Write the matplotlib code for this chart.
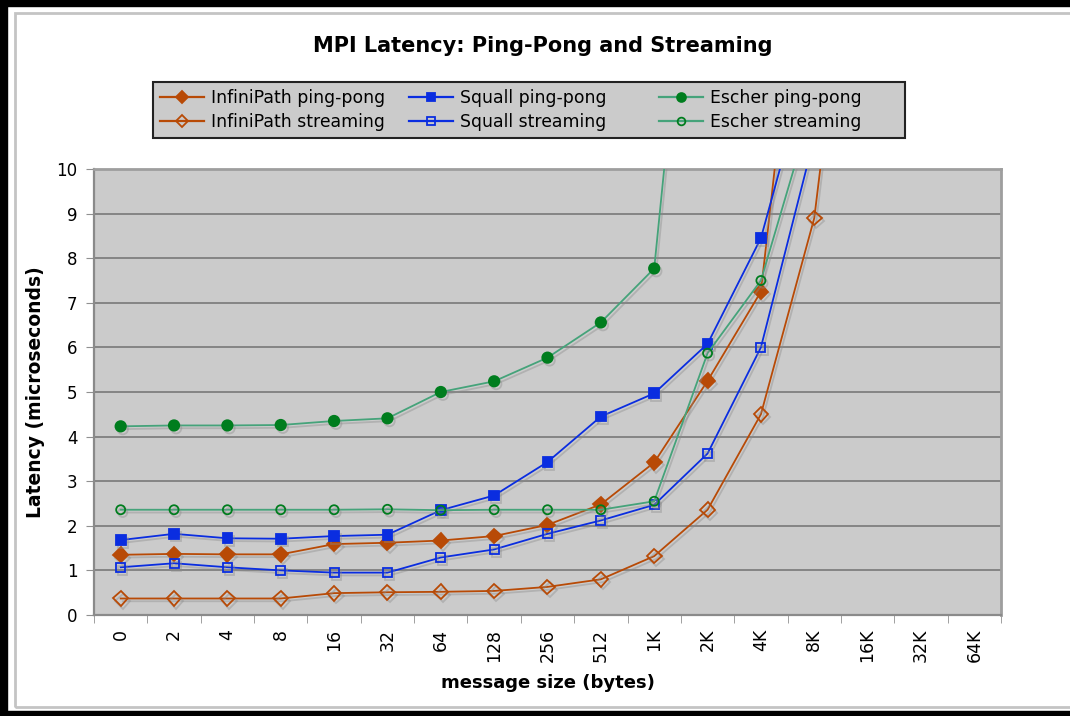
import numpy as np
import matplotlib.pyplot as plt
import matplotlib.patheffects as pe
from matplotlib.patches import Rectangle
from matplotlib.lines import Line2D

# message sizes (categorical x axis)
sizes = ["0", "2", "4", "8", "16", "32", "64", "128", "256", "512",
         "1K", "2K", "4K", "8K", "16K", "32K", "64K"]

# latency in microseconds (last point runs off the top)
infinipath_pp = [1.35, 1.37, 1.36, 1.36, 1.59, 1.62, 1.67, 1.77, 2.02, 2.48,
                 3.42, 5.25, 7.25, 17.9]
infinipath_st = [0.37, 0.37, 0.37, 0.37, 0.49, 0.51, 0.52, 0.54, 0.63, 0.80,
                 1.32, 2.36, 4.50, 8.90, 18.7]
squall_pp = [1.68, 1.82, 1.72, 1.71, 1.77, 1.80, 2.35, 2.68, 3.43, 4.45,
             4.97, 6.08, 8.45, 12.8]
squall_st = [1.07, 1.16, 1.07, 1.00, 0.95, 0.95, 1.29, 1.47, 1.82, 2.12,
             2.47, 3.62, 6.00, 10.7]
escher_pp = [4.23, 4.25, 4.25, 4.26, 4.35, 4.41, 5.00, 5.24, 5.77, 6.56,
             7.77, 19.7]
escher_st = [2.36, 2.36, 2.36, 2.36, 2.36, 2.37, 2.35, 2.36, 2.36, 2.36,
             2.55, 5.87, 7.50, 11.55]

ORANGE = "#b84a06"
BLUE = "#0a2de0"
GREEN_LINE = "#45a37a"
GREEN_MARK = "#007d1e"
BG = "#cbcbcb"
W, H = 1070, 716

fig = plt.figure(figsize=(W / 100, H / 100), dpi=100)

# outer frame (black, cut off at the right) and inner light grey frame
fig.add_artist(Rectangle((0, 0), 7 / W, 1, transform=fig.transFigure,
                         color="black", zorder=0))
fig.add_artist(Rectangle((0, 1 - 6 / H), 1, 6 / H, transform=fig.transFigure,
                         color="black", zorder=0))
fig.add_artist(Rectangle((0, 0), 1, 5 / H, transform=fig.transFigure,
                         color="black", zorder=0))
fig.add_artist(Rectangle((15 / W, 9 / H), 1.2, 1 - 22 / H,
                         transform=fig.transFigure, fill=False,
                         edgecolor="#c4c4c4", lw=2, zorder=0))

ax = fig.add_axes([94 / W, 1 - 615 / H, 907 / W, 446 / H])
ax.set_facecolor(BG)

shadow = [pe.SimpleLineShadow(offset=(1.5, -2), shadow_color="#8a8a8a", alpha=0.4),
          pe.Normal()]

series = [
    (infinipath_pp, "InfiniPath ping-pong", ORANGE, ORANGE, "D", 7.5, True),
    (infinipath_st, "InfiniPath streaming", ORANGE, ORANGE, "D", 7.5, False),
    (squall_pp, "Squall ping-pong", BLUE, BLUE, "s", 7, True),
    (squall_st, "Squall streaming", BLUE, BLUE, "s", 6.5, False),
    (escher_pp, "Escher ping-pong", GREEN_LINE, GREEN_MARK, "o", 7.5, True),
    (escher_st, "Escher streaming", GREEN_LINE, GREEN_MARK, "o", 6.5, False),
]

handles = []
for vals, label, lc, mc, mk, ms, filled in series:
    x = np.arange(len(vals))
    ln, = ax.plot(x, vals, color=lc, lw=1.3, marker=mk, markersize=ms,
                  markerfacecolor=mc if filled else "none",
                  markeredgecolor=mc, markeredgewidth=1.3, label=label,
                  zorder=3)
    ln.set_path_effects(shadow)
    handles.append(Line2D([], [], color=lc, lw=1.6, marker=mk, markersize=ms * 0.85,
                          markerfacecolor=mc if filled else "none",
                          markeredgecolor=mc, markeredgewidth=1.3))

ax.set_xlim(-0.5, len(sizes) - 0.5)
ax.set_ylim(0, 10)
ax.set_yticks(range(0, 11))
ax.set_xticks(np.arange(len(sizes)))
ax.set_xticklabels(sizes, rotation=90, fontsize=12.5)
ax.set_xticks(np.arange(len(sizes) + 1) - 0.5, minor=True)
ax.tick_params(axis="x", which="major", length=0, pad=10)
ax.tick_params(axis="x", which="minor", length=6, color="#909090", direction="out")
ax.tick_params(axis="y", length=6, color="#909090", labelsize=12, pad=6)

ax.grid(axis="y", color="#7f7f7f", lw=1.3)
ax.set_axisbelow(True)
for side in ["left", "bottom"]:
    ax.spines[side].set_color("#8a8a8a")
    ax.spines[side].set_linewidth(1.6)
for side in ["top", "right"]:
    ax.spines[side].set_color("#9e9e9e")
    ax.spines[side].set_linewidth(2)

ax.set_xlabel("message size (bytes)", fontsize=13, fontweight="bold", labelpad=8)
ax.set_ylabel("Latency (microseconds)", fontsize=13.5, fontweight="bold", labelpad=8)

fig.text(543 / W, 1 - 46 / H, "MPI Latency: Ping-Pong and Streaming",
         ha="center", va="center", fontsize=15, fontweight="bold")

# legend: one box, three equal-width columns
fig.add_artist(Rectangle((153 / W, 1 - 138 / H), 752 / W, 56 / H,
                         transform=fig.transFigure, facecolor=BG,
                         edgecolor="#222222", lw=1.5, zorder=1))
col_x = [160, 409, 659]
for c in range(3):
    leg = fig.legend(handles[2 * c:2 * c + 2], [s[1] for s in series[2 * c:2 * c + 2]],
                     loc="center left", bbox_to_anchor=(col_x[c] / W, 1 - 110 / H),
                     fontsize=12.4, frameon=False, handlelength=2.55,
                     handletextpad=0.4, labelspacing=0.3, borderpad=0,
                     borderaxespad=0)
    leg.set_zorder(2)

fig.savefig("out.png", dpi=100)
